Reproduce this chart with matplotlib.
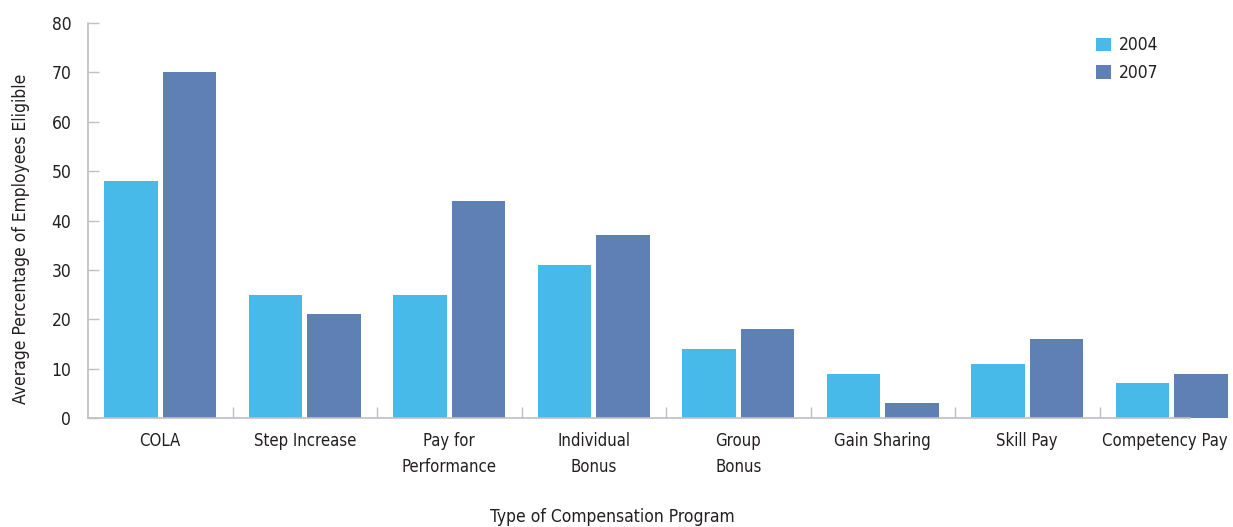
import matplotlib
matplotlib.use("Agg")
import matplotlib.pyplot as plt
from matplotlib import font_manager as fm
from matplotlib.transforms import ScaledTranslation
import numpy as np

categories = ["COLA", "Step Increase", "Pay for\nPerformance", "Individual\nBonus",
              "Group\nBonus", "Gain Sharing", "Skill Pay", "Competency Pay"]
values_2004 = [48, 25, 25, 31, 14, 9, 11, 7]
values_2007 = [70, 21, 44, 37, 18, 3, 16, 9]
series_labels = ["2004", "2007"]
yticks = [0, 10, 20, 30, 40, 50, 60, 70, 80]

# find a condensed font file if any (prefer the narrowest)
cond = [f for f in fm.findSystemFonts() if ('Condensed' in f or 'Narrow' in f) and 'Bold' not in f and 'Oblique' not in f and 'Italic' not in f and 'Light' not in f]
def pref(f):
    if 'LiberationSansNarrow-Regular' in f:
        return 0
    if 'DejaVuSansCondensed.ttf' in f:
        return 1
    return 2
cond_sorted = sorted(cond, key=lambda f: (pref(f), f))
narrow = False
if cond_sorted:
    fp_path = cond_sorted[0]
    narrow = 'Narrow' in fp_path
    fm.fontManager.addfont(fp_path)
    fam = fm.FontProperties(fname=fp_path).get_name()
    plt.rcParams['font.family'] = [fam, 'DejaVu Sans']
    plt.rcParams['font.stretch'] = 'condensed'
    FS = 13 if narrow else 12.5
else:
    plt.rcParams['font.family'] = ['DejaVu Sans']
    FS = 11.5

text_color = "#231f20"
axis_color = "#bfbfc4"

fig = plt.figure(figsize=(12.33, 5.27), dpi=100)
ax = fig.add_axes([88/1233, 1-418/527, 1156/1233, (418-23)/527])

x = np.arange(len(categories))
w = 0.367
off = 0.2025
ax.bar(x - off, values_2004, width=w, color="#48baea", label=series_labels[0], zorder=2)
ax.bar(x + off, values_2007, width=w, color="#5e80b5", label=series_labels[1], zorder=2)

ax.set_xlim(-0.5, len(categories) - 0.5)
ax.set_ylim(0, 80)
ax.set_yticks(yticks)
ax.set_yticklabels([str(t) for t in yticks], fontsize=FS, color=text_color)
ax.set_xticks(x)
ax.set_xticklabels(categories, fontsize=FS - (0 if narrow else 0.5), color=text_color, linespacing=1.6)
ax.set_xticks(np.arange(0.5, len(categories) - 1, 1.0), minor=True)
ax.tick_params(axis='x', which='major', length=0, pad=10)
ax.tick_params(axis='x', which='minor', direction='in', length=8, color=axis_color, width=1)
ax.tick_params(axis='y', direction='in', length=8, color=axis_color, width=1, pad=12)

if not narrow:
    last = ax.get_xticklabels()[-1]
    last.set_transform(last.get_transform() + ScaledTranslation(-7/100, 0, fig.dpi_scale_trans))

for s in ['top', 'right']:
    ax.spines[s].set_visible(False)
ax.spines['left'].set_color(axis_color)
ax.spines['bottom'].set_color(axis_color)
ax.spines['left'].set_linewidth(1.2)
ax.spines['bottom'].set_linewidth(1.2)
ax.spines['bottom'].set_bounds(-0.5, 7.126)

ax.set_ylabel("Average Percentage of Employees Eligible", fontsize=FS, color=text_color)
ax.yaxis.set_label_coords(-58/1156, (418-239)/395)
fig.text(612/1233, 1-517/527, "Type of Compensation Program", fontsize=FS, color=text_color,
         ha='center', va='center')

leg = fig.legend(loc='upper left', bbox_to_anchor=(1093/1233, 1-33/527), frameon=False,
                 fontsize=FS, handlelength=0.85, handleheight=0.85, handletextpad=0.45,
                 labelspacing=0.55, borderaxespad=0, borderpad=0.2)
for t in leg.get_texts():
    t.set_color(text_color)

fig.savefig("out.png", dpi=100)
